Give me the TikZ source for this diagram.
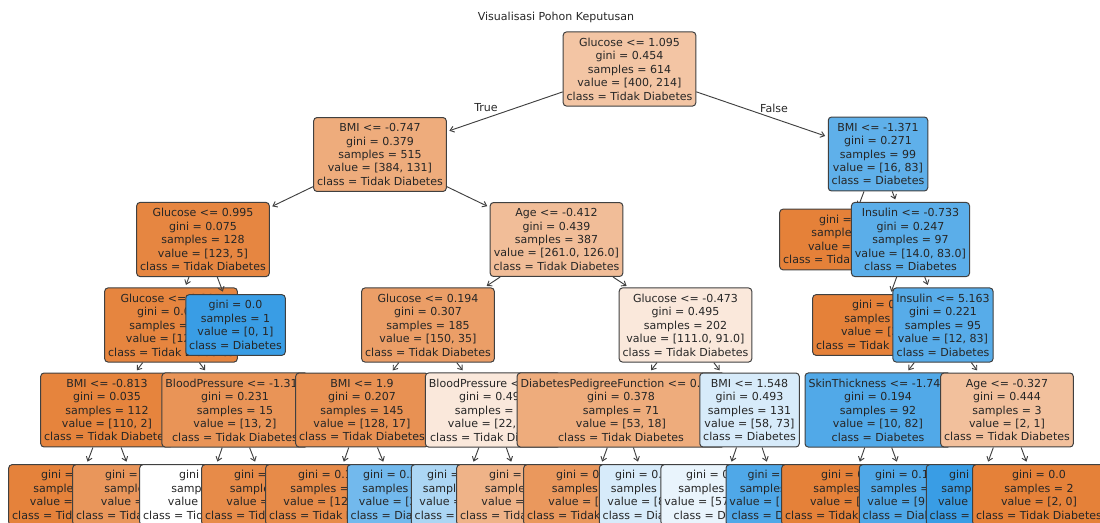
\documentclass[tikz,border=0pt]{standalone}
\usepackage{fontspec}
\setmainfont{DejaVu Sans}
\usetikzlibrary{arrows.meta}

\definecolor{tdk}{RGB}{229,129,57}
\definecolor{dbt}{RGB}{57,157,229}

\begin{document}
\begin{tikzpicture}[x=0.75pt, y=-0.75pt,
    kotak/.style={draw=black!75, line width=0.75pt, rounded corners=2.5pt,
        align=center, inner xsep=2.6pt, inner ysep=4.4pt, text=black!85,
        font=\fontsize{8.27}{10.1}\selectfont},
    panah/.style={draw=black!75, line width=0.7pt,
        -{Straight Barb[length=3pt,width=4.5pt]}, shorten >=2pt},
    tulisan/.style={text=black!85, font=\fontsize{8.27}{10.1}\selectfont}]
    \useasboundingbox (0,0) rectangle (1100,522);
    \clip (0,0) rectangle (1100,522);

    % --- Judul ---
    \node[tulisan] (judul) at (556,17) {Visualisasi Pohon Keputusan};

    % --- Akar ---
    \node[kotak, fill=tdk!46!white] (akar) at (629.5,69) {Glucose <= 1.095\\gini = 0.454\\samples = 614\\value = [400, 214]\\class = Tidak Diabetes};
    \node[tulisan] (benar) at (486,108) {True};
    \node[tulisan] (salah) at (774,108) {False};

    % --- Cabang kiri ---
    \node[kotak, fill=tdk!66!white] (bmiA) at (380,154.5) {BMI <= -0.747\\gini = 0.379\\samples = 515\\value = [384, 131]\\class = Tidak Diabetes};
    \draw[panah] (akar) -- (bmiA);

    \node[kotak, fill=tdk!96!white] (gluA) at (203,239.5) {Glucose <= 0.995\\gini = 0.075\\samples = 128\\value = [123, 5]\\class = Tidak Diabetes};
    \draw[panah] (bmiA) -- (gluA);

    \node[kotak, fill=tdk!97!white] (gluB) at (171,325) {Glucose <= 0.395\\gini = 0.061\\samples = 127\\value = [123, 4]\\class = Tidak Diabetes};
    \draw[panah] (gluA) -- (gluB);

    \node[kotak, fill=tdk!98!white] (bmiB) at (107,410) {BMI <= -0.813\\gini = 0.035\\samples = 112\\value = [110, 2]\\class = Tidak Diabetes};
    \draw[panah] (gluB) -- (bmiB);

    \node[kotak, fill=tdk!99!white] (daun1) at (75,495) {gini = 0.019\\samples = 105\\value = [104, 1]\\class = Tidak Diabetes};
    \draw[panah] (bmiB) -- (daun1);
    \node[kotak, fill=tdk!83!white] (daun2) at (139,495) {gini = 0.245\\samples = 7\\value = [6, 1]\\class = Tidak Diabetes};
    \draw[panah] (bmiB) -- (daun2);

    \node[kotak, fill=tdk!85!white] (tdA) at (235,410) {BloodPressure <= -1.314\\gini = 0.231\\samples = 15\\value = [13, 2]\\class = Tidak Diabetes};
    \draw[panah] (gluB) -- (tdA);

    \node[kotak, fill=white] (daun3) at (206,495) {gini = 0.5\\samples = 2\\value = [1, 1]\\class = Tidak Diabetes};
    \draw[panah] (tdA) -- (daun3);
    \node[kotak, fill=tdk!92!white] (daun4) at (268,495) {gini = 0.142\\samples = 13\\value = [12, 1]\\class = Tidak Diabetes};
    \draw[panah] (tdA) -- (daun4);

    \node[kotak, fill=dbt] (daunB) at (235.5,325) {gini = 0.0\\samples = 1\\value = [0, 1]\\class = Diabetes};
    \draw[panah] (gluA) -- (daunB);

    \node[kotak, fill=tdk!52!white] (ageA) at (556.5,239.5) {Age <= -0.412\\gini = 0.439\\samples = 387\\value = [261.0, 126.0]\\class = Tidak Diabetes};
    \draw[panah] (bmiA) -- (ageA);

    \node[kotak, fill=tdk!77!white] (gluC) at (428,325) {Glucose <= 0.194\\gini = 0.307\\samples = 185\\value = [150, 35]\\class = Tidak Diabetes};
    \draw[panah] (ageA) -- (gluC);

    \node[kotak, fill=tdk!87!white] (bmiC) at (362,410) {BMI <= 1.9\\gini = 0.207\\samples = 145\\value = [128, 17]\\class = Tidak Diabetes};
    \draw[panah] (gluC) -- (bmiC);

    \node[kotak, fill=tdk!92!white] (daun5) at (332,495) {gini = 0.136\\samples = 136\\value = [126, 10]\\class = Tidak Diabetes};
    \draw[panah] (bmiC) -- (daun5);
    \node[kotak, fill=dbt!71!white] (daun6) at (397,495) {gini = 0.346\\samples = 9\\value = [2, 7]\\class = Diabetes};
    \draw[panah] (bmiC) -- (daun6);

    \node[kotak, fill=tdk!18!white] (tdB) at (493,410) {BloodPressure <= 0.36\\gini = 0.495\\samples = 40\\value = [22, 18]\\class = Tidak Diabetes};
    \draw[panah] (gluC) -- (tdB);

    \node[kotak, fill=dbt!42!white] (daun7) at (461,495) {gini = 0.465\\samples = 19\\value = [7, 12]\\class = Diabetes};
    \draw[panah] (tdB) -- (daun7);
    \node[kotak, fill=tdk!60!white] (daun8) at (523,495) {gini = 0.408\\samples = 21\\value = [15, 6]\\class = Tidak Diabetes};
    \draw[panah] (tdB) -- (daun8);

    \node[kotak, fill=tdk!18!white] (gluD) at (685.5,325) {Glucose <= -0.473\\gini = 0.495\\samples = 202\\value = [111.0, 91.0]\\class = Tidak Diabetes};
    \draw[panah] (ageA) -- (gluD);

    \node[kotak, fill=tdk!66!white] (dpf) at (621,410) {DiabetesPedigreeFunction <= 0.528\\gini = 0.378\\samples = 71\\value = [53, 18]\\class = Tidak Diabetes};
    \draw[panah] (gluD) -- (dpf);

    \node[kotak, fill=tdk!82!white] (daun9) at (590,495) {gini = 0.256\\samples = 53\\value = [45, 8]\\class = Tidak Diabetes};
    \draw[panah] (dpf) -- (daun9);
    \node[kotak, fill=dbt!20!white] (daun10) at (649,495) {gini = 0.494\\samples = 18\\value = [8, 10]\\class = Diabetes};
    \draw[panah] (dpf) -- (daun10);

    \node[kotak, fill=dbt!20!white] (bmiD) at (749.5,410) {BMI <= 1.548\\gini = 0.493\\samples = 131\\value = [58, 73]\\class = Diabetes};
    \draw[panah] (gluD) -- (bmiD);

    \node[kotak, fill=dbt!11!white] (daun11) at (720,495) {gini = 0.498\\samples = 121\\value = [57.0, 64.0]\\class = Diabetes};
    \draw[panah] (bmiD) -- (daun11);
    \node[kotak, fill=dbt!89!white] (daun12) at (778,495) {gini = 0.18\\samples = 10\\value = [1.0, 9.0]\\class = Diabetes};
    \draw[panah] (bmiD) -- (daun12);

    % --- Cabang kanan ---
    \node[kotak, fill=dbt!81!white] (bmiE) at (878,154) {BMI <= -1.371\\gini = 0.271\\samples = 99\\value = [16, 83]\\class = Diabetes};
    \draw[panah] (akar) -- (bmiE);

    \node[kotak, fill=tdk] (daunA) at (846,239.5) {gini = 0.0\\samples = 2\\value = [2, 0]\\class = Tidak Diabetes};
    \draw[panah] (bmiE) -- (daunA);

    \node[kotak, fill=dbt!83!white] (insA) at (910.5,239.5) {Insulin <= -0.733\\gini = 0.247\\samples = 97\\value = [14.0, 83.0]\\class = Diabetes};
    \draw[panah] (bmiE) -- (insA);

    \node[kotak, fill=tdk] (daunC) at (879,325) {gini = 0.0\\samples = 2\\value = [2, 0]\\class = Tidak Diabetes};
    \draw[panah] (insA) -- (daunC);

    \node[kotak, fill=dbt!85!white] (insB) at (943,325) {Insulin <= 5.163\\gini = 0.221\\samples = 95\\value = [12, 83]\\class = Diabetes};
    \draw[panah] (insA) -- (insB);

    \node[kotak, fill=dbt!88!white] (kulit) at (878,410) {SkinThickness <= -1.747\\gini = 0.194\\samples = 92\\value = [10, 82]\\class = Diabetes};
    \draw[panah] (insB) -- (kulit);

    \node[kotak, fill=tdk] (daun13) at (848,495) {gini = 0.0\\samples = 1\\value = [1, 0]\\class = Tidak Diabetes};
    \draw[panah] (kulit) -- (daun13);
    \node[kotak, fill=dbt!89!white] (daun14) at (909,495) {gini = 0.178\\samples = 91\\value = [9, 82]\\class = Diabetes};
    \draw[panah] (kulit) -- (daun14);

    \node[kotak, fill=tdk!50!white] (ageB) at (1007,410) {Age <= -0.327\\gini = 0.444\\samples = 3\\value = [2, 1]\\class = Tidak Diabetes};
    \draw[panah] (insB) -- (ageB);

    \node[kotak, fill=dbt] (daun15) at (976,495) {gini = 0.0\\samples = 1\\value = [0, 1]\\class = Diabetes};
    \draw[panah] (ageB) -- (daun15);
    \node[kotak, fill=tdk] (daun16) at (1039,495) {gini = 0.0\\samples = 2\\value = [2, 0]\\class = Tidak Diabetes};
    \draw[panah] (ageB) -- (daun16);
\end{tikzpicture}
\end{document}
